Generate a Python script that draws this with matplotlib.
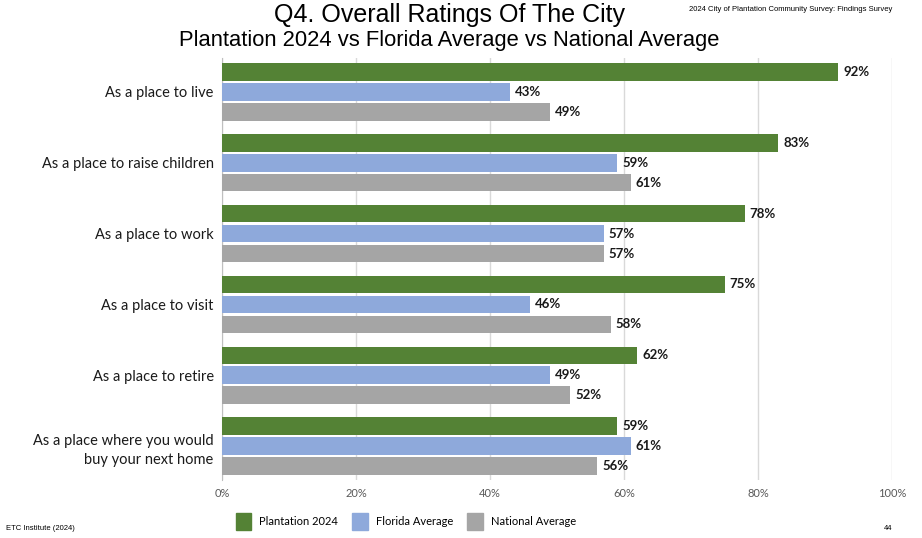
import numpy as np
import matplotlib.pyplot as plt
from matplotlib.patches import Patch
from matplotlib.ticker import FuncFormatter

categories = [
    "As a place to live",
    "As a place to raise children",
    "As a place to work",
    "As a place to visit",
    "As a place to retire",
    "As a place where you would\nbuy your next home",
]
plantation = [92, 83, 78, 75, 62, 59]
florida = [43, 59, 57, 46, 49, 61]
national = [49, 61, 57, 58, 52, 56]

series = [("Plantation 2024", plantation, "#548235"),
          ("Florida Average", florida, "#8EA9DB"),
          ("National Average", national, "#A5A5A5")]

fig = plt.figure(figsize=(9.22, 5.38), dpi=100)
ax = fig.add_axes([0.2408, 0.1078, 0.7267, 0.7844])

spacing = 3.55
centers = np.arange(len(categories)) * spacing
for i, (name, vals, col) in enumerate(series):
    y = centers + (i - 1)
    ax.barh(y, vals, height=0.88, color=col, zorder=3)
    for yy, v in zip(y, vals):
        ax.text(v + 0.75, yy, f"{v}%", va="center", ha="left",
                fontsize=9.5, fontweight="bold", family="Lato", color="#1a1a1a")

ax.set_xlim(0, 100)
ax.set_ylim(centers[-1] + 1.7, centers[0] - 1.7)
ax.set_yticks(centers)
ax.set_yticklabels(categories, fontsize=10.5, family="Lato", color="#1a1a1a",
                   linespacing=1.5)
ax.set_xticks(np.arange(0, 101, 20))
ax.xaxis.set_major_formatter(FuncFormatter(lambda x, _: f"{x:.0f}%"))
for t in ax.get_xticklabels():
    t.set_fontsize(8)
    t.set_color("#595959")
    t.set_family("Lato")
ax.tick_params(axis="both", length=0, pad=6)
ax.grid(axis="x", color="#D9D9D9", linewidth=1, zorder=0)
for s in ["top", "right", "bottom"]:
    ax.spines[s].set_visible(False)
ax.spines["left"].set_color("#BFBFBF")

fig.text(0.487, 0.972, "Q4. Overall Ratings Of The City", ha="center", va="center",
         fontsize=18, family="Liberation Sans")
fig.text(0.487, 0.925, "Plantation 2024 vs Florida Average vs National Average",
         ha="center", va="center", fontsize=15.8, family="Liberation Sans")
fig.text(0.968, 0.983, "2024 City of Plantation Community Survey: Findings Survey",
         ha="right", va="center", fontsize=5.5, family="Liberation Sans")
fig.text(0.006, 0.018, "ETC Institute (2024)", ha="left", va="center",
         fontsize=5.5, family="Liberation Sans")
fig.text(0.968, 0.018, "44", ha="right", va="center",
         fontsize=5.5, family="Liberation Sans")

handles = [Patch(color=c, label=n) for n, _, c in series]
fig.legend(handles=handles, loc="center", bbox_to_anchor=(0.440, 0.031), ncol=3,
           frameon=False, prop={"family": "Lato", "size": 8},
           handlelength=1.4, handleheight=2.0, columnspacing=1.3, handletextpad=0.7)

fig.savefig("out.png", dpi=100)
